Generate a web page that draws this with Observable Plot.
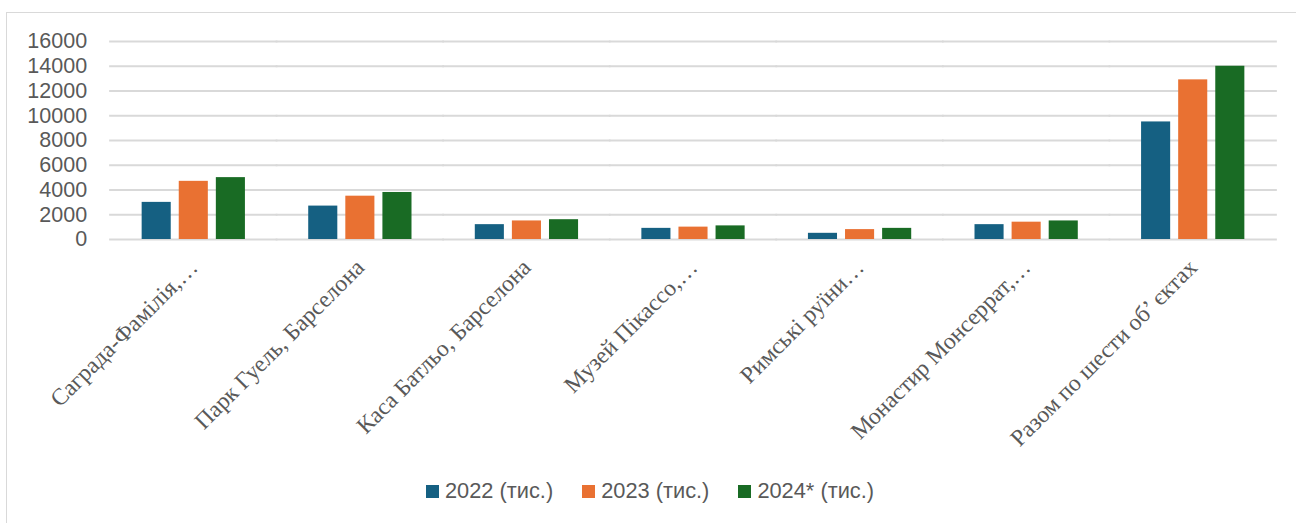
<!DOCTYPE html>
<html>
<head>
<meta charset="utf-8">
<script src="https://cdn.jsdelivr.net/npm/d3@7"></script>
<script src="https://cdn.jsdelivr.net/npm/@observablehq/plot@0.6"></script>
<style>
  html, body { margin: 0; padding: 0; background: #fff; }
  #wrap { position: relative; width: 1296px; height: 523px; overflow: hidden; }
  #frame { position: absolute; left: 6px; top: 12px; width: 1400px; height: 600px;
           border-top: 1.5px solid #d9d9d9; border-left: 1.5px solid #d9d9d9; box-sizing: border-box; }
  #chart { position: absolute; left: 0; top: 0; }
  #legend { position: absolute; left: 426px; top: 478px; display: flex; gap: 29px;
            font-family: "Liberation Sans", Arial, sans-serif; font-size: 21.8px; color: #595959; }
  .item { display: flex; align-items: center; gap: 6px; }
  .sw { width: 13px; height: 13px; display: inline-block; }
</style>
</head>
<body>
<div id="wrap">
  <div id="frame"></div>
  <div id="chart"></div>
  <div id="legend"></div>
</div>
<script>
const categories = [
  "Саграда-Фамілія,…",
  "Парк Гуель, Барселона",
  "Каса Батльо, Барселона",
  "Музей Пікассо,…",
  "Римські руїни…",
  "Монастир Монсеррат,…",
  "Разом по шести об’ єктах"
];
const series = ["2022 (тис.)", "2023 (тис.)", "2024* (тис.)"];
const values2022 = [3000, 2700, 1200, 900, 500, 1200, 9500];
const values2023 = [4700, 3500, 1500, 1000, 800, 1400, 12900];
const values2024 = [5000, 3800, 1600, 1100, 900, 1500, 14000];
const yTicks = [0, 2000, 4000, 6000, 8000, 10000, 12000, 14000, 16000];
const colors = ["#156082", "#E97132", "#196B24"];

const seriesValues = [values2022, values2023, values2024];
const data = [];
categories.forEach((c, i) => {
  series.forEach((s, j) => data.push({cat: c, series: s, value: seriesValues[j][i]}));
});

const plot = Plot.plot({
  width: 1296,
  height: 470,
  marginLeft: 110,
  marginRight: 20,
  marginTop: 41,
  marginBottom: 231,
  style: {fontFamily: "Liberation Sans, Arial, sans-serif", fontSize: "21.5px", color: "#595959", background: "transparent"},
  fx: {domain: categories, paddingInner: 0.38, paddingOuter: 0.19, round: false, label: null, axis: null},
  x: {domain: series, paddingInner: 0.216, paddingOuter: 0, round: false, axis: null},
  y: {domain: [0, 16000], axis: null},
  color: {domain: series, range: colors},
  marks: [
    Plot.ruleY(yTicks, {stroke: "#d9d9d9", strokeWidth: 2, insetLeft: -32.5, insetRight: -32.5}),
    Plot.axisY({ticks: yTicks, tickFormat: d3.format("d"), tickSize: 0, tickPadding: 55, label: null, fill: "#595959"}),
    Plot.barY(data, {fx: "cat", x: "series", y: "value", fill: "series"}),
    Plot.axisFx({anchor: "bottom", tickRotate: -45, tickSize: 0, tickPadding: 24, label: null,
                 fontFamily: "Liberation Serif, Times New Roman, serif", fontSize: 23.5, fill: "#595959"})
  ]
});
document.getElementById("chart").appendChild(plot);

const legend = document.getElementById("legend");
series.forEach((s, i) => {
  const it = document.createElement("div");
  it.className = "item";
  const sw = document.createElement("span");
  sw.className = "sw";
  sw.style.background = colors[i];
  const t = document.createElement("span");
  t.textContent = s;
  it.appendChild(sw); it.appendChild(t);
  legend.appendChild(it);
});
</script>
</body>
</html>
